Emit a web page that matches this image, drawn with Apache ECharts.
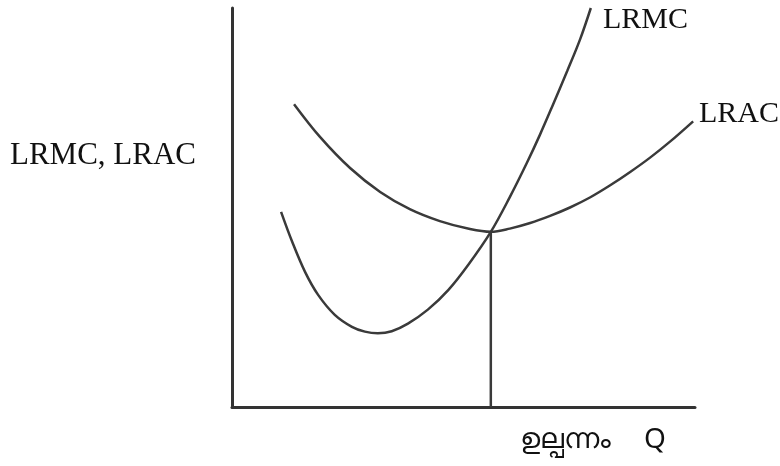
<!DOCTYPE html>
<html>
<head>
<meta charset="utf-8">
<title>LRMC, LRAC</title>
<script src="https://cdn.jsdelivr.net/npm/echarts@6/dist/echarts.min.js"></script>
<style>
  html, body { margin: 0; padding: 0; background: #fff; }
  #chart { width: 780px; height: 466px; }
</style>
</head>
<body>
<div id="chart"></div>
<script>
(function (echarts) {
  "use strict";

  // curve points, [quantity, cost] on a 0..100 scale
  var lrmcPoints = [
    [10.6, 48.9], [13.0, 41.4], [15.8, 33.8], [18.6, 28.1], [22.2, 23.1],
    [25.9, 20.1], [28.7, 18.9], [31.5, 18.5], [34.5, 19.0], [38.0, 20.9],
    [42.3, 24.4], [46.7, 29.3], [51.0, 35.6], [55.9, 43.9], [60.0, 52.6],
    [63.7, 61.2], [66.5, 68.2], [69.3, 75.7], [72.4, 84.2], [75.2, 92.2],
    [77.5, 100]
  ];

  var lracPoints = [
    [13.4, 75.9], [19.0, 67.7], [25.5, 59.9], [32.0, 53.9], [38.4, 49.6],
    [44.9, 46.6], [51.4, 44.6], [55.9, 43.9], [60.0, 44.7], [64.4, 46.1],
    [68.7, 47.9], [73.0, 50.0], [77.3, 52.5], [81.6, 55.5], [86.0, 58.9],
    [90.3, 62.5], [94.6, 66.5], [99.6, 71.6]
  ];

  // output where LRMC cuts LRAC at its minimum
  var optimumQ = 55.9
    , optimumCost = 43.9;

  var dropLine = [[optimumQ, 0], [optimumQ, optimumCost]];

  var labels = {
    yAxis: 'LRMC, LRAC',
    output: 'ഉല്പന്നം',
    q: 'Q',
    lrmc: 'LRMC',
    lrac: 'LRAC'
  };

  var INK = '#3a3a3a'
    , SERIF = '"Liberation Serif", "DejaVu Serif", serif'
    , SANS = '"Noto Sans", "DejaVu Sans", sans-serif';

  var element = document.getElementById('chart');
  var instance = echarts.init(element, null, { renderer: 'canvas' });

  function curve(name, data) {
    return {
      name: name,
      type: 'line',
      data: data,
      smooth: 0.35,
      showSymbol: false,
      silent: true,
      lineStyle: { color: INK, width: 2.5 }
    };
  }

  function axis() {
    return {
      type: 'value',
      min: 0,
      max: 100,
      axisLine: { show: true, onZero: false, lineStyle: { color: '#333', width: 3 } },
      axisTick: { show: false },
      axisLabel: { show: false },
      splitLine: { show: false }
    };
  }

  instance.setOption({
    animation: false,
    backgroundColor: '#fff',
    grid: { left: 232, right: 85, top: 8, bottom: 59 },
    xAxis: axis(),
    yAxis: axis(),
    series: [
      curve(labels.lrmc, lrmcPoints),
      curve(labels.lrac, lracPoints),
      {
        name: 'Q*',
        type: 'line',
        data: dropLine,
        showSymbol: false,
        silent: true,
        lineStyle: { color: INK, width: 2.5 }
      }
    ],
    graphic: [
      {
        type: 'text', left: 10, top: 140,
        style: { text: labels.yAxis, font: '31px ' + SERIF, fill: '#111' }
      },
      {
        type: 'text', left: 603, top: 5,
        style: { text: labels.lrmc, font: '30px ' + SERIF, fill: '#111' }
      },
      {
        type: 'text', left: 699, top: 99,
        style: { text: labels.lrac, font: '30px ' + SERIF, fill: '#111' }
      },
      {
        type: 'text', left: 520, top: 426,
        style: { text: labels.output, font: '28px ' + SANS, fill: '#111' }
      },
      {
        type: 'text', left: 644, top: 426,
        style: { text: labels.q, font: '28px ' + SANS, fill: '#111' }
      }
    ]
  });
})(echarts);
</script>
</body>
</html>
